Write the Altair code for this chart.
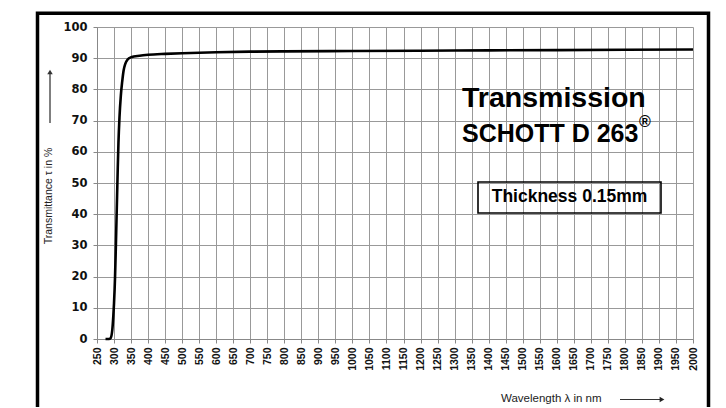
import altair as alt
import pandas as pd

# ---- data ----
wavelength = [275, 285, 290, 295, 298, 300, 303, 305, 307, 309, 311, 313, 316, 320,
              324, 328, 333, 340, 350, 375, 400, 450, 500, 600, 700, 800, 1000,
              1200, 1400, 1600, 1800, 2000]
transmittance = [0.0, 0.0, 0.3, 3.0, 7.5, 11.5, 20.0, 28.0, 37.0, 46.0, 55.0, 63.0, 71.0, 78.0,
                 82.5, 86.0, 88.2, 89.6, 90.3, 90.8, 91.1, 91.4, 91.6, 91.9, 92.1, 92.2, 92.3,
                 92.4, 92.5, 92.6, 92.7, 92.8]
x_ticks = list(range(250, 2001, 50))
y_ticks = list(range(0, 101, 10))

title_main = "Transmission"
title_sub = "SCHOTT D 263"
title_reg = "®"
box_label = "Thickness 0.15mm"
y_title = "Transmittance τ in %"
x_title = "Wavelength λ in nm"

W, H = 596, 312

df = pd.DataFrame({"wl": wavelength, "t": transmittance})

x_enc = alt.X("wl:Q",
              scale=alt.Scale(domain=[250, 2000], nice=False, zero=False),
              axis=alt.Axis(values=x_ticks, labelAngle=270, title=None, format="d",
                            labelFont="Liberation Sans", labelFontWeight="bold",
                            labelFontSize=10.5, labelColor="#111",
                            labelAlign="right", labelBaseline="middle",
                            tickSize=4, labelPadding=4, tickColor="#888",
                            domainColor="#888", gridColor="#999", gridWidth=1,
                            labelOverlap=False, labelFlush=False))
y_enc = alt.Y("t:Q",
              scale=alt.Scale(domain=[0, 100], nice=False),
              axis=alt.Axis(values=y_ticks, title=None, format="d",
                            labelFont="DejaVu Sans", labelFontWeight="bold",
                            labelFontSize=11.5, labelColor="#111",
                            tickSize=4, labelPadding=6, tickColor="#888",
                            domainColor="#888", gridColor="#999", gridWidth=1))

line = alt.Chart(df).mark_line(color="black", strokeWidth=2.6,
                               interpolate="monotone").encode(x=x_enc, y=y_enc)

one = pd.DataFrame({"k": [0]})

def txt(text, x, y, size, weight="bold", font="Liberation Sans", angle=0,
        align="left", baseline="alphabetic", color="black"):
    return alt.Chart(one).mark_text(text=text, fontSize=size, fontWeight=weight,
                                    font=font, angle=angle, align=align,
                                    baseline=baseline, color=color).encode(
        x=alt.value(x), y=alt.value(y))

t1 = txt(title_main, 365, 80, 28.5)
t2 = txt(title_sub, 365, 115, 25)
t3 = txt(title_reg, 542, 100, 16)
box = alt.Chart(one).mark_rect(filled=False, stroke="black", strokeWidth=1.6).encode(
    x=alt.value(381), x2=alt.value(564), y=alt.value(155), y2=alt.value(186))
t4 = txt(box_label, 472.5, 170, 17.5, align="center", baseline="middle")

yt = txt(y_title, -48, 169, 10.5, weight="normal", angle=270, align="center",
         baseline="middle", color="#222")
yarrow = alt.Chart(one).mark_rule(color="#555", strokeWidth=1.5).encode(
    x=alt.value(-47), y=alt.value(96), y2=alt.value(47))
yhead = alt.Chart(one).mark_point(shape="triangle-up", filled=True, color="#333",
                                  size=30, opacity=1).encode(
    x=alt.value(-47), y=alt.value(45))

xt = txt(x_title, 404, 372, 11.5, weight="normal", baseline="middle", color="#222")
xarrow = alt.Chart(one).mark_rule(color="#333", strokeWidth=1.2).encode(
    x=alt.value(523), x2=alt.value(563), y=alt.value(372.5))
xhead = alt.Chart(one).mark_point(shape="triangle-right", filled=True, color="#222",
                                  size=30, opacity=1).encode(
    x=alt.value(565), y=alt.value(372.5))

frame = alt.Chart(one).mark_rect(filled=False, stroke="black", strokeWidth=3.5).encode(
    x=alt.value(-59.5), x2=alt.value(611.5), y=alt.value(-13.7), y2=alt.value(430))

chart = alt.layer(line, t1, t2, t3, box, t4, yt, yarrow, yhead, xt, xarrow, xhead,
                  frame).properties(
    width=W, height=H,
    autosize=alt.AutoSizeParams(type="none"),
    padding={"left": 89, "top": 19, "right": 25, "bottom": 68},
    background="white",
).configure_view(stroke=None)

chart.save("out.html", embed_options={"renderer": "svg", "actions": False})
